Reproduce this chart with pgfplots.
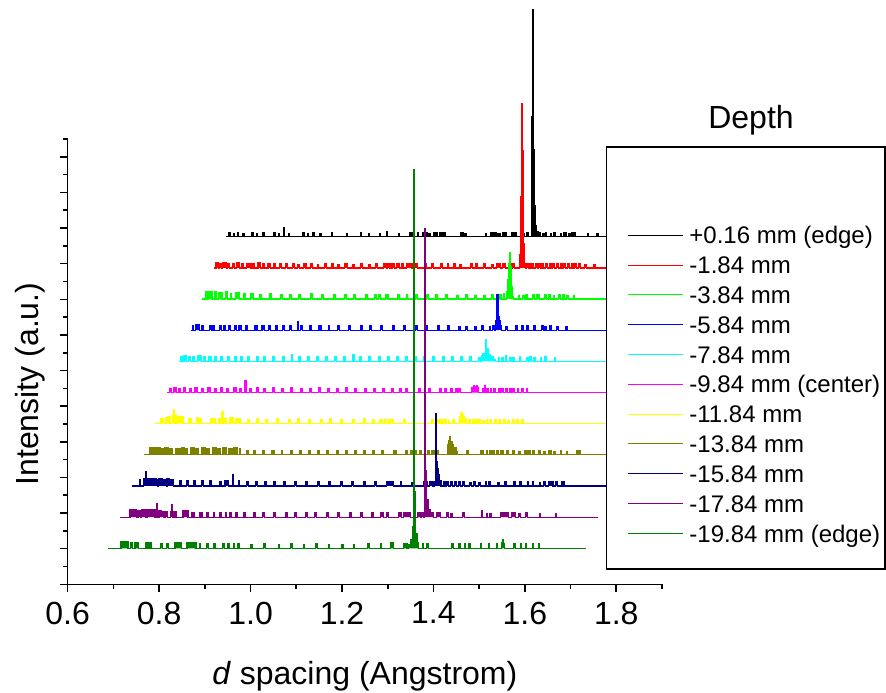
\documentclass[border=0pt]{standalone}
\usepackage{fontspec}
\setmainfont{Liberation Sans}
\usepackage{pgfplots}
\pgfplotsset{compat=1.18}
\definecolor{olivec}{rgb}{0.5,0.5,0}
\definecolor{navyc}{rgb}{0,0,0.5}
\definecolor{purplec}{rgb}{0.5,0,0.5}
\definecolor{dgreen}{rgb}{0,0.5,0}
\definecolor{bgreen}{rgb}{0,1,0}
\definecolor{redc}{rgb}{1,0,0}
\definecolor{bluec}{rgb}{0,0,1}
\definecolor{cyanc}{rgb}{0,1,1}
\definecolor{magc}{rgb}{1,0,1}
\definecolor{yelc}{rgb}{1,1,0}
\newcommand{\wfdx}{0.0257}
\newcommand{\wfdy}{0.8745}
\newcommand{\wfyb}{1.011}
\pgfplotsset{wf/.style={const plot, line width=0.6pt, mark=none, fill}}
\begin{document}
\begin{tikzpicture}
\begin{axis}[
  at={(0,0)}, anchor=south west,
  scale only axis, width=297.15pt, height=222.65pt,
  xmin=0.6, xmax=1.9, ymin=0, ymax=12.5,
  clip=false,
  axis lines=left, axis line style={-, line width=0.8pt},
  xtick={0.6,0.8,1.0,1.2,1.4,1.6,1.8},
  minor xtick={0.7,0.9,1.1,1.3,1.5,1.7,1.9},
  ytick={0,1,...,12}, minor ytick={0.5,1.5,...,12.5},
  yticklabels={},
  tick align=outside,
  major tick length=4pt, minor tick length=2.2pt,
  every tick/.style={black, line width=0.8pt},
  /pgf/number format/assume math mode=true,
  xticklabel style={font=\fontsize{16}{19}\selectfont, inner sep=0pt, yshift=-4.6pt, /pgf/number format/.cd, fixed, fixed zerofill, precision=1},
  xlabel={\textit{d} spacing (Angstrom)},
  xlabel style={at={(axis description cs:0.5,-0.2059)}, anchor=center, font=\fontsize{16}{19}\selectfont},
  ylabel={Intensity (a.u.)},
  ylabel style={at={(axis description cs:-0.06344,0.4498)}, anchor=center, font=\fontsize{16}{19}\selectfont},
]
% +0.16 mm (edge), k=10
\addplot[wf, black] table[header=false, row sep=\\, x expr=\thisrowno{0}+10*\wfdx, y expr=\thisrowno{1}+\wfyb+10*\wfdy] {
0.6890 0\\ 0.6960 0.12\\ 0.6980 0\\ 0.7050 0.1\\ 0.7070 0\\ 0.7150 0.12\\ 0.7170 0\\ 0.7260 0.1\\ 0.7290 0\\ 0.7460 0.12\\ 0.7500 0\\ 0.7560 0.1\\ 0.7580 0\\ 0.7700 0.13\\ 0.7740 0\\ 0.7940 0.12\\ 0.7970 0\\ 0.8040 0.1\\ 0.8060 0\\ 0.8160 0.25\\ 0.8180 0\\ 0.8260 0.1\\ 0.8280 0\\ 0.8560 0.12\\ 0.8600 0\\ 0.8670 0.1\\ 0.8700 0\\ 0.8790 0.12\\ 0.8830 0\\ 0.8950 0.1\\ 0.8980 0\\ 0.9200 0.12\\ 0.9230 0\\ 0.9520 0.1\\ 0.9550 0\\ 0.9830 0.12\\ 0.9860 0\\ 1.0010 0.1\\ 1.0040 0\\ 1.0250 0.1\\ 1.0270 0\\ 1.0410 0.14\\ 1.0430 0\\ 1.0660 0.1\\ 1.0690 0\\ 1.0905 0.13\\ 1.0940 0\\ 1.0960 0.12\\ 1.0990 0\\ 1.1080 0.12\\ 1.1100 0\\ 1.1200 0.13\\ 1.1240 0\\ 1.1260 0.12\\ 1.1290 0\\ 1.1330 0.1\\ 1.1360 0\\ 1.1430 0.13\\ 1.1520 0\\ 1.1560 0.12\\ 1.1620 0\\ 1.1650 0.11\\ 1.1690 0\\ 1.2014 0.12\\ 1.2080 0\\ 1.2110 0.1\\ 1.2160 0\\ 1.2561 0.1\\ 1.2580 0\\ 1.2670 0.11\\ 1.2700 0\\ 1.2720 0.12\\ 1.2800 0\\ 1.2840 0.1\\ 1.2900 0\\ 1.2950 0.12\\ 1.3036 0\\ 1.3146 0.11\\ 1.3180 0\\ 1.3210 0.12\\ 1.3255 0\\ 1.3380 0.1\\ 1.3410 0\\ 1.3470 0.11\\ 1.3500 0\\ 1.3572 3.36\\ 1.3594 6.39\\ 1.3616 2.46\\ 1.3638 0.87\\ 1.3660 0.3\\ 1.3690 0.14\\ 1.3720 0\\ 1.3740 0.12\\ 1.3780 0\\ 1.3820 0.1\\ 1.3860 0\\ 1.3880 0.11\\ 1.3912 0\\ 1.3990 0.1\\ 1.4020 0\\ 1.4050 0.12\\ 1.4090 0\\ 1.4202 0.1\\ 1.4240 0\\ 1.4270 0.12\\ 1.4330 0\\ 1.4380 0.1\\ 1.4420 0\\ 1.4460 0.11\\ 1.4531 0\\ 1.4800 0.1\\ 1.4830 0\\ 1.5000 0.1\\ 1.5030 0\\ 1.5300 0.1\\ 1.5330 0\\ 1.7340 0\\
};
% -1.84 mm, k=9
\addplot[wf, redc] table[header=false, row sep=\\, x expr=\thisrowno{0}+9*\wfdx, y expr=\thisrowno{1}+\wfyb+9*\wfdy] {
0.6890 0\\ 0.6930 0.14\\ 0.6990 0\\ 0.7010 0.12\\ 0.7050 0\\ 0.7080 0.16\\ 0.7160 0\\ 0.7190 0.13\\ 0.7230 0\\ 0.7290 0.12\\ 0.7330 0\\ 0.7380 0.15\\ 0.7450 0\\ 0.7500 0.12\\ 0.7530 0\\ 0.7600 0.13\\ 0.7680 0\\ 0.7720 0.12\\ 0.7760 0\\ 0.7850 0.14\\ 0.7900 0\\ 0.7960 0.12\\ 0.8000 0\\ 0.8070 0.12\\ 0.8130 0\\ 0.8200 0.13\\ 0.8240 0\\ 0.8320 0.12\\ 0.8360 0\\ 0.8450 0.12\\ 0.8500 0\\ 0.8600 0.13\\ 0.8640 0\\ 0.8720 0.1\\ 0.8750 0\\ 0.8850 0.12\\ 0.8900 0\\ 0.9000 0.12\\ 0.9040 0\\ 0.9150 0.1\\ 0.9180 0\\ 0.9300 0.12\\ 0.9340 0\\ 0.9450 0.12\\ 0.9490 0\\ 0.9600 0.1\\ 0.9630 0\\ 0.9750 0.12\\ 0.9800 0\\ 0.9920 0.1\\ 0.9950 0\\ 1.0100 0.12\\ 1.0140 0\\ 1.0270 0.1\\ 1.0300 0\\ 1.0420 0.12\\ 1.0460 0\\ 1.0593 0.12\\ 1.0660 0\\ 1.0690 0.13\\ 1.0739 0\\ 1.0780 0.12\\ 1.0830 0\\ 1.0880 0.11\\ 1.0940 0\\ 1.1000 0.12\\ 1.1040 0\\ 1.1100 0.12\\ 1.1220 0\\ 1.1250 0.11\\ 1.1330 0\\ 1.1500 0.12\\ 1.1540 0\\ 1.1650 0.11\\ 1.1690 0\\ 1.1850 0.12\\ 1.1880 0\\ 1.1990 0.11\\ 1.2020 0\\ 1.2130 0.12\\ 1.2160 0\\ 1.2270 0.1\\ 1.2300 0\\ 1.2500 0.12\\ 1.2540 0\\ 1.2600 0.11\\ 1.2640 0\\ 1.2790 0.12\\ 1.2830 0\\ 1.2960 0.1\\ 1.3000 0\\ 1.3074 0.12\\ 1.3160 0\\ 1.3190 0.11\\ 1.3256 0\\ 1.3340 0.12\\ 1.3390 0\\ 1.3420 0.11\\ 1.3460 0\\ 1.3570 0.38\\ 1.3592 2.0\\ 1.3613 4.62\\ 1.3635 3.3\\ 1.3657 0.67\\ 1.3679 0.12\\ 1.3700 0\\ 1.3730 0.12\\ 1.3760 0\\ 1.3790 0.11\\ 1.3820 0\\ 1.3850 0.12\\ 1.3880 0\\ 1.3920 0.11\\ 1.3960 0\\ 1.3990 0.12\\ 1.4030 0\\ 1.4060 0.11\\ 1.4100 0\\ 1.4140 0.12\\ 1.4180 0\\ 1.4220 0.12\\ 1.4260 0\\ 1.4300 0.11\\ 1.4340 0\\ 1.4380 0.12\\ 1.4420 0\\ 1.4460 0.11\\ 1.4500 0\\ 1.4540 0.12\\ 1.4580 0\\ 1.4620 0.11\\ 1.4660 0\\ 1.4700 0.12\\ 1.4740 0\\ 1.4780 0.11\\ 1.4820 0\\ 1.4860 0.12\\ 1.4896 0\\ 1.5000 0.1\\ 1.5030 0\\ 1.5200 0.1\\ 1.5240 0\\ 1.7340 0\\
};
% -3.84 mm, k=8
\addplot[wf, bgreen] table[header=false, row sep=\\, x expr=\thisrowno{0}+8*\wfdx, y expr=\thisrowno{1}+\wfyb+8*\wfdy] {
0.6890 0\\ 0.6950 0.2\\ 0.6990 0\\ 0.7020 0.22\\ 0.7100 0\\ 0.7150 0.2\\ 0.7190 0\\ 0.7250 0.18\\ 0.7320 0\\ 0.7400 0.2\\ 0.7440 0\\ 0.7500 0.15\\ 0.7530 0\\ 0.7620 0.18\\ 0.7700 0\\ 0.7800 0.14\\ 0.7840 0\\ 0.7950 0.15\\ 0.8000 0\\ 0.8150 0.12\\ 0.8190 0\\ 0.8350 0.14\\ 0.8390 0\\ 0.8600 0.12\\ 0.8640 0\\ 0.8800 0.13\\ 0.8840 0\\ 0.9000 0.12\\ 0.9030 0\\ 0.9250 0.14\\ 0.9300 0\\ 0.9500 0.12\\ 0.9540 0\\ 0.9750 0.12\\ 0.9790 0\\ 1.0000 0.13\\ 1.0050 0\\ 1.0200 0.12\\ 1.0240 0\\ 1.0450 0.12\\ 1.0490 0\\ 1.0650 0.13\\ 1.0700 0\\ 1.0750 0.12\\ 1.0790 0\\ 1.0900 0.12\\ 1.0950 0\\ 1.1150 0.13\\ 1.1190 0\\ 1.1350 0.12\\ 1.1380 0\\ 1.1550 0.12\\ 1.1600 0\\ 1.1800 0.12\\ 1.1840 0\\ 1.2000 0.13\\ 1.2040 0\\ 1.2200 0.12\\ 1.2250 0\\ 1.2450 0.1\\ 1.2480 0\\ 1.2650 0.12\\ 1.2690 0\\ 1.2850 0.1\\ 1.2880 0\\ 1.3050 0.1\\ 1.3080 0\\ 1.3220 0.12\\ 1.3260 0\\ 1.3380 0.13\\ 1.3420 0\\ 1.3470 0.14\\ 1.3500 0\\ 1.3550 0.2\\ 1.3563 0.55\\ 1.3580 1.0\\ 1.3608 1.31\\ 1.3630 0.92\\ 1.3652 0.36\\ 1.3675 0.08\\ 1.3700 0\\ 1.3800 0.1\\ 1.3830 0\\ 1.3900 0.1\\ 1.3930 0\\ 1.3970 0.12\\ 1.4000 0\\ 1.4110 0.12\\ 1.4150 0\\ 1.4210 0.12\\ 1.4260 0\\ 1.4370 0.12\\ 1.4420 0\\ 1.4470 0.12\\ 1.4500 0\\ 1.4570 0.1\\ 1.4600 0\\ 1.4680 0.12\\ 1.4720 0\\ 1.4760 0.12\\ 1.4800 0\\ 1.4850 0.1\\ 1.4900 0\\ 1.5000 0.1\\ 1.5030 0\\ 1.7340 0\\
};
% -5.84 mm, k=7
\addplot[wf, bluec] table[header=false, row sep=\\, x expr=\thisrowno{0}+7*\wfdx, y expr=\thisrowno{1}+\wfyb+7*\wfdy] {
0.6890 0\\ 0.6930 0.12\\ 0.6960 0\\ 0.6990 0.15\\ 0.7080 0\\ 0.7120 0.13\\ 0.7160 0\\ 0.7300 0.14\\ 0.7350 0\\ 0.7380 0.12\\ 0.7420 0\\ 0.7530 0.12\\ 0.7560 0\\ 0.7620 0.13\\ 0.7660 0\\ 0.7720 0.12\\ 0.7760 0\\ 0.7850 0.14\\ 0.7890 0\\ 0.7950 0.12\\ 0.8000 0\\ 0.8100 0.13\\ 0.8140 0\\ 0.8300 0.12\\ 0.8340 0\\ 0.8450 0.12\\ 0.8500 0\\ 0.8600 0.13\\ 0.8630 0\\ 0.8740 0.12\\ 0.8780 0\\ 0.8900 0.12\\ 0.8940 0\\ 0.9050 0.13\\ 0.9090 0\\ 0.9220 0.24\\ 0.9240 0\\ 0.9300 0.12\\ 0.9340 0\\ 0.9500 0.12\\ 0.9540 0\\ 0.9700 0.13\\ 0.9740 0\\ 0.9900 0.12\\ 0.9930 0\\ 1.0100 0.12\\ 1.0140 0\\ 1.0350 0.13\\ 1.0390 0\\ 1.0600 0.12\\ 1.0640 0\\ 1.0800 0.12\\ 1.0840 0\\ 1.1050 0.13\\ 1.1090 0\\ 1.1300 0.12\\ 1.1340 0\\ 1.1550 0.12\\ 1.1590 0\\ 1.1800 0.13\\ 1.1850 0\\ 1.2050 0.12\\ 1.2080 0\\ 1.2300 0.12\\ 1.2340 0\\ 1.2500 0.12\\ 1.2540 0\\ 1.2750 0.1\\ 1.2780 0\\ 1.2900 0.1\\ 1.2940 0\\ 1.3100 0.1\\ 1.3130 0\\ 1.3250 0.12\\ 1.3290 0\\ 1.3420 0.1\\ 1.3450 0\\ 1.3500 0.12\\ 1.3530 0\\ 1.3560 0.28\\ 1.3590 1.01\\ 1.3612 0.39\\ 1.3634 0.28\\ 1.3660 0.14\\ 1.3690 0\\ 1.3780 0.1\\ 1.3820 0\\ 1.4000 0.12\\ 1.4030 0\\ 1.4120 0.12\\ 1.4160 0\\ 1.4240 0.12\\ 1.4270 0\\ 1.4400 0.12\\ 1.4440 0\\ 1.4570 0.12\\ 1.4600 0\\ 1.4640 0.1\\ 1.4670 0\\ 1.4750 0.12\\ 1.4790 0\\ 1.4900 0.1\\ 1.4930 0\\ 1.5100 0.1\\ 1.5130 0\\ 1.7340 0\\
};
% -7.84 mm, k=6
\addplot[wf, cyanc] table[header=false, row sep=\\, x expr=\thisrowno{0}+6*\wfdx, y expr=\thisrowno{1}+\wfyb+6*\wfdy] {
0.6890 0\\ 0.6920 0.13\\ 0.6960 0\\ 0.7000 0.16\\ 0.7060 0\\ 0.7100 0.14\\ 0.7150 0\\ 0.7200 0.13\\ 0.7240 0\\ 0.7300 0.15\\ 0.7380 0\\ 0.7420 0.12\\ 0.7460 0\\ 0.7550 0.14\\ 0.7600 0\\ 0.7680 0.13\\ 0.7720 0\\ 0.7800 0.12\\ 0.7840 0\\ 0.7950 0.14\\ 0.8000 0\\ 0.8100 0.12\\ 0.8140 0\\ 0.8250 0.13\\ 0.8290 0\\ 0.8400 0.12\\ 0.8440 0\\ 0.8600 0.14\\ 0.8640 0\\ 0.8750 0.12\\ 0.8790 0\\ 0.8950 0.13\\ 0.8990 0\\ 0.9150 0.12\\ 0.9190 0\\ 0.9350 0.18\\ 0.9370 0\\ 0.9500 0.12\\ 0.9540 0\\ 0.9700 0.13\\ 0.9740 0\\ 0.9900 0.12\\ 0.9940 0\\ 1.0100 0.12\\ 1.0140 0\\ 1.0300 0.13\\ 1.0340 0\\ 1.0500 0.12\\ 1.0540 0\\ 1.0700 0.2\\ 1.0720 0\\ 1.0850 0.12\\ 1.0890 0\\ 1.1050 0.13\\ 1.1090 0\\ 1.1250 0.12\\ 1.1290 0\\ 1.1450 0.12\\ 1.1490 0\\ 1.1650 0.13\\ 1.1690 0\\ 1.1850 0.12\\ 1.1890 0\\ 1.2050 0.12\\ 1.2090 0\\ 1.2250 0.13\\ 1.2290 0\\ 1.2450 0.12\\ 1.2490 0\\ 1.2650 0.12\\ 1.2690 0\\ 1.2850 0.12\\ 1.2890 0\\ 1.3050 0.12\\ 1.3090 0\\ 1.3250 0.12\\ 1.3290 0\\ 1.3450 0.1\\ 1.3480 0\\ 1.3510 0.15\\ 1.3540 0.22\\ 1.3567 0.1\\ 1.3590 0.61\\ 1.3615 0.37\\ 1.3650 0.2\\ 1.3700 0.1\\ 1.3740 0.14\\ 1.3780 0.05\\ 1.3810 0\\ 1.3880 0.1\\ 1.3910 0\\ 1.3960 0.1\\ 1.3990 0\\ 1.4030 0.16\\ 1.4060 0\\ 1.4130 0.1\\ 1.4170 0\\ 1.4200 0.1\\ 1.4230 0\\ 1.4340 0.12\\ 1.4370 0\\ 1.4500 0.1\\ 1.4530 0\\ 1.4560 0.12\\ 1.4600 0\\ 1.4650 0.1\\ 1.4680 0\\ 1.4800 0.1\\ 1.4830 0\\ 1.4900 0.12\\ 1.4930 0\\ 1.5100 0.1\\ 1.5130 0\\ 1.7340 0\\
};
% -9.84 mm (center), k=5
\addplot[wf, magc] table[header=false, row sep=\\, x expr=\thisrowno{0}+5*\wfdx, y expr=\thisrowno{1}+\wfyb+5*\wfdy] {
0.6890 0\\ 0.6950 0.12\\ 0.6990 0\\ 0.7030 0.14\\ 0.7100 0\\ 0.7150 0.12\\ 0.7190 0\\ 0.7250 0.15\\ 0.7300 0\\ 0.7380 0.12\\ 0.7420 0\\ 0.7500 0.13\\ 0.7560 0\\ 0.7650 0.12\\ 0.7690 0\\ 0.7780 0.14\\ 0.7830 0\\ 0.7920 0.12\\ 0.7960 0\\ 0.8050 0.13\\ 0.8100 0\\ 0.8200 0.12\\ 0.8240 0\\ 0.8350 0.14\\ 0.8400 0\\ 0.8480 0.12\\ 0.8520 0\\ 0.8595 0.33\\ 0.8615 0\\ 0.8700 0.12\\ 0.8740 0\\ 0.8850 0.13\\ 0.8890 0\\ 0.9000 0.12\\ 0.9040 0\\ 0.9200 0.13\\ 0.9240 0\\ 0.9400 0.12\\ 0.9440 0\\ 0.9600 0.13\\ 0.9640 0\\ 0.9800 0.12\\ 0.9840 0\\ 1.0000 0.12\\ 1.0040 0\\ 1.0200 0.13\\ 1.0240 0\\ 1.0400 0.12\\ 1.0440 0\\ 1.0600 0.12\\ 1.0640 0\\ 1.0800 0.13\\ 1.0840 0\\ 1.1000 0.12\\ 1.1040 0\\ 1.1200 0.12\\ 1.1240 0\\ 1.1400 0.12\\ 1.1440 0\\ 1.1600 0.12\\ 1.1640 0\\ 1.1800 0.12\\ 1.1840 0\\ 1.1980 0.12\\ 1.2020 0\\ 1.2100 0.12\\ 1.2140 0\\ 1.2400 0.1\\ 1.2440 0\\ 1.2600 0.1\\ 1.2640 0\\ 1.2850 0.12\\ 1.2880 0\\ 1.2950 0.12\\ 1.2990 0\\ 1.3080 0.1\\ 1.3120 0\\ 1.3200 0.12\\ 1.3240 0\\ 1.3270 0.1\\ 1.3300 0\\ 1.3555 0.15\\ 1.3590 0.2\\ 1.3620 0.17\\ 1.3650 0.2\\ 1.3680 0.14\\ 1.3700 0\\ 1.3800 0.12\\ 1.3830 0\\ 1.3840 0.19\\ 1.3860 0\\ 1.3880 0.12\\ 1.3910 0\\ 1.3960 0.1\\ 1.3990 0\\ 1.4040 0.12\\ 1.4070 0\\ 1.4140 0.12\\ 1.4170 0\\ 1.4210 0.1\\ 1.4240 0\\ 1.4300 0.12\\ 1.4330 0\\ 1.4380 0.1\\ 1.4410 0\\ 1.4450 0.12\\ 1.4480 0\\ 1.4550 0.1\\ 1.4580 0\\ 1.4650 0.12\\ 1.4680 0\\ 1.4750 0.1\\ 1.4780 0\\ 1.7340 0\\
};
% -11.84 mm, k=4
\addplot[wf, yelc] table[header=false, row sep=\\, x expr=\thisrowno{0}+4*\wfdx, y expr=\thisrowno{1}+\wfyb+4*\wfdy] {
0.6890 0\\ 0.7014 0.13\\ 0.7064 0\\ 0.7123 0.16\\ 0.7150 0.2\\ 0.7210 0\\ 0.7270 0.25\\ 0.7290 0.39\\ 0.7310 0.25\\ 0.7340 0\\ 0.7370 0.2\\ 0.7500 0\\ 0.7626 0.15\\ 0.7685 0\\ 0.7795 0.16\\ 0.7840 0\\ 0.7860 0.14\\ 0.7904 0\\ 0.8100 0.15\\ 0.8195 0\\ 0.8280 0.14\\ 0.8330 0\\ 0.8348 0.34\\ 0.8368 0\\ 0.8400 0.15\\ 0.8440 0\\ 0.8524 0.16\\ 0.8600 0\\ 0.8640 0.15\\ 0.8743 0\\ 0.8900 0.12\\ 0.8940 0\\ 0.9100 0.13\\ 0.9140 0\\ 0.9300 0.12\\ 0.9340 0\\ 0.9550 0.14\\ 0.9590 0\\ 0.9800 0.12\\ 0.9840 0\\ 1.0000 0.13\\ 1.0040 0\\ 1.0250 0.12\\ 1.0290 0\\ 1.0500 0.12\\ 1.0540 0\\ 1.0700 0.13\\ 1.0740 0\\ 1.0950 0.12\\ 1.0990 0\\ 1.1200 0.12\\ 1.1240 0\\ 1.1450 0.13\\ 1.1490 0\\ 1.1650 0.12\\ 1.1690 0\\ 1.1805 0.11\\ 1.1860 0\\ 1.1900 0.12\\ 1.1950 0\\ 1.2000 0.11\\ 1.2097 0\\ 1.2316 0.12\\ 1.2353 0\\ 1.2534 0.12\\ 1.2560 0\\ 1.2937 0.12\\ 1.2972 0\\ 1.3047 0.12\\ 1.3080 0\\ 1.3110 0.11\\ 1.3140 0\\ 1.3180 0.12\\ 1.3210 0\\ 1.3240 0.11\\ 1.3265 0\\ 1.3300 0.1\\ 1.3330 0\\ 1.3400 0.12\\ 1.3440 0\\ 1.3540 0.2\\ 1.3560 0.3\\ 1.3600 0.25\\ 1.3630 0.2\\ 1.3660 0.15\\ 1.3687 0\\ 1.3750 0.12\\ 1.3790 0\\ 1.3830 0.11\\ 1.3860 0\\ 1.3900 0.12\\ 1.3930 0\\ 1.3960 0.11\\ 1.4000 0\\ 1.4050 0.1\\ 1.4080 0\\ 1.4130 0.12\\ 1.4160 0\\ 1.4210 0.11\\ 1.4240 0\\ 1.4300 0.12\\ 1.4340 0\\ 1.4400 0.11\\ 1.4430 0\\ 1.4500 0.12\\ 1.4540 0\\ 1.4600 0.1\\ 1.4640 0\\ 1.4700 0.12\\ 1.4740 0\\ 1.4800 0.11\\ 1.4840 0\\ 1.4900 0.12\\ 1.4930 0\\ 1.7340 0\\
};
% -13.84 mm, k=3
\addplot[wf, olivec] table[header=false, row sep=\\, x expr=\thisrowno{0}+3*\wfdx, y expr=\thisrowno{1}+\wfyb+3*\wfdy] {
0.6890 0\\ 0.7030 0.19\\ 0.7050 0\\ 0.7070 0.19\\ 0.7150 0\\ 0.7170 0.19\\ 0.7250 0\\ 0.7270 0.18\\ 0.7330 0\\ 0.7350 0.19\\ 0.7440 0\\ 0.7460 0.18\\ 0.7530 0\\ 0.7600 0.17\\ 0.7700 0\\ 0.7720 0.19\\ 0.7780 0\\ 0.7800 0.18\\ 0.7850 0\\ 0.7920 0.19\\ 0.8000 0\\ 0.8020 0.18\\ 0.8080 0\\ 0.8150 0.19\\ 0.8250 0\\ 0.8270 0.18\\ 0.8330 0\\ 0.8400 0.19\\ 0.8480 0\\ 0.8500 0.18\\ 0.8580 0\\ 0.8620 0.19\\ 0.8700 0\\ 0.8750 0.18\\ 0.8830 0\\ 0.8860 0.19\\ 0.8950 0\\ 0.8980 0.18\\ 0.9000 0\\ 0.9150 0.12\\ 0.9180 0\\ 0.9300 0.12\\ 0.9330 0\\ 0.9500 0.12\\ 0.9530 0\\ 0.9700 0.13\\ 0.9740 0\\ 0.9900 0.12\\ 0.9930 0\\ 1.0100 0.13\\ 1.0140 0\\ 1.0300 0.12\\ 1.0340 0\\ 1.0500 0.12\\ 1.0540 0\\ 1.0700 0.13\\ 1.0740 0\\ 1.0900 0.12\\ 1.0940 0\\ 1.1100 0.12\\ 1.1140 0\\ 1.1300 0.13\\ 1.1340 0\\ 1.1500 0.12\\ 1.1540 0\\ 1.1700 0.12\\ 1.1740 0\\ 1.1900 0.12\\ 1.1940 0\\ 1.2100 0.12\\ 1.2140 0\\ 1.2354 0.12\\ 1.2428 0\\ 1.2610 0.12\\ 1.2660 0\\ 1.2740 0.12\\ 1.2780 0\\ 1.2810 0.11\\ 1.2850 0\\ 1.2920 0.12\\ 1.2960 0\\ 1.3100 0.12\\ 1.3140 0\\ 1.3180 0.11\\ 1.3230 0\\ 1.3260 0.12\\ 1.3340 0\\ 1.3544 0.28\\ 1.3566 0.4\\ 1.3588 0.5\\ 1.3610 0.37\\ 1.3638 0.28\\ 1.3668 0.2\\ 1.3704 0.2\\ 1.3726 0.1\\ 1.3750 0\\ 1.3960 0.12\\ 1.3990 0\\ 1.4250 0.12\\ 1.4320 0\\ 1.4390 0.12\\ 1.4420 0\\ 1.4460 0.11\\ 1.4500 0\\ 1.4530 0.12\\ 1.4560 0\\ 1.4600 0.12\\ 1.4640 0\\ 1.4700 0.11\\ 1.4750 0\\ 1.4830 0.12\\ 1.4870 0\\ 1.4950 0.12\\ 1.4990 0\\ 1.5100 0.1\\ 1.5130 0\\ 1.5230 0.12\\ 1.5280 0\\ 1.5300 0.12\\ 1.5350 0\\ 1.5400 0.11\\ 1.5430 0\\ 1.5520 0.12\\ 1.5560 0\\ 1.5640 0.1\\ 1.5670 0\\ 1.5750 0.12\\ 1.5800 0\\ 1.5860 0.1\\ 1.5900 0\\ 1.6000 0.12\\ 1.6030 0\\ 1.6148 0.1\\ 1.6170 0\\ 1.6350 0.12\\ 1.6440 0\\ 1.7340 0\\
};
% -15.84 mm, k=2
\addplot[wf, navyc] table[header=false, row sep=\\, x expr=\thisrowno{0}+2*\wfdx, y expr=\thisrowno{1}+\wfyb+2*\wfdy] {
0.6890 0\\ 0.7053 0.17\\ 0.7070 0\\ 0.7140 0.2\\ 0.7184 0.41\\ 0.7200 0.2\\ 0.7300 0.18\\ 0.7330 0.2\\ 0.7420 0.17\\ 0.7460 0\\ 0.7480 0.2\\ 0.7560 0.18\\ 0.7640 0\\ 0.7660 0.2\\ 0.7700 0.17\\ 0.7797 0\\ 0.7943 0.15\\ 0.7980 0\\ 0.8090 0.14\\ 0.8120 0\\ 0.8234 0.14\\ 0.8270 0\\ 0.8418 0.15\\ 0.8450 0\\ 0.8600 0.14\\ 0.8630 0\\ 0.8819 0.12\\ 0.8840 0\\ 0.8928 0.14\\ 0.9000 0\\ 0.9097 0.31\\ 0.9120 0\\ 0.9220 0.14\\ 0.9250 0\\ 0.9400 0.12\\ 0.9440 0\\ 0.9600 0.13\\ 0.9640 0\\ 0.9800 0.12\\ 0.9840 0\\ 1.0000 0.13\\ 1.0040 0\\ 1.0200 0.12\\ 1.0240 0\\ 1.0450 0.12\\ 1.0490 0\\ 1.0700 0.13\\ 1.0740 0\\ 1.0950 0.12\\ 1.0990 0\\ 1.1200 0.12\\ 1.1240 0\\ 1.1450 0.13\\ 1.1490 0\\ 1.1700 0.12\\ 1.1740 0\\ 1.1950 0.12\\ 1.1990 0\\ 1.2200 0.12\\ 1.2240 0\\ 1.2466 0.12\\ 1.2612 0\\ 1.2757 0.12\\ 1.2780 0\\ 1.3000 0.1\\ 1.3030 0\\ 1.3267 0.12\\ 1.3350 0\\ 1.3400 0.11\\ 1.3460 0\\ 1.3500 0.12\\ 1.3530 2.02\\ 1.3552 0.68\\ 1.3574 0.5\\ 1.3596 0.31\\ 1.3618 0.14\\ 1.3650 0\\ 1.3705 0.12\\ 1.3740 0\\ 1.3780 0.12\\ 1.3820 0\\ 1.3860 0.11\\ 1.3900 0\\ 1.3950 0.12\\ 1.3990 0\\ 1.4030 0.12\\ 1.4070 0\\ 1.4130 0.12\\ 1.4160 0\\ 1.4280 0.1\\ 1.4310 0\\ 1.4370 0.12\\ 1.4400 0\\ 1.4480 0.1\\ 1.4510 0\\ 1.4620 0.12\\ 1.4650 0\\ 1.4700 0.12\\ 1.4730 0\\ 1.4900 0.1\\ 1.4930 0\\ 1.5050 0.12\\ 1.5090 0\\ 1.5240 0.12\\ 1.5270 0\\ 1.5380 0.12\\ 1.5410 0\\ 1.5540 0.12\\ 1.5570 0\\ 1.5650 0.12\\ 1.5680 0\\ 1.5800 0.1\\ 1.5830 0\\ 1.5900 0.12\\ 1.5940 0\\ 1.6000 0.12\\ 1.6100 0\\ 1.6150 0.11\\ 1.6200 0\\ 1.6300 0.12\\ 1.6340 0\\ 1.7340 0\\
};
% -17.84 mm, k=1
\addplot[wf, purplec] table[header=false, row sep=\\, x expr=\thisrowno{0}+1*\wfdx, y expr=\thisrowno{1}+\wfyb+1*\wfdy] {
0.6888 0\\ 0.7107 0.2\\ 0.7254 0\\ 0.7280 0.18\\ 0.7330 0\\ 0.7363 0.2\\ 0.7457 0\\ 0.7479 0.2\\ 0.7654 0\\ 0.7691 0.37\\ 0.7710 0\\ 0.7740 0.17\\ 0.7800 0.15\\ 0.7850 0\\ 0.7880 0.15\\ 0.7920 0\\ 0.8000 0.15\\ 0.8020 0.34\\ 0.8040 0\\ 0.8070 0.15\\ 0.8110 0\\ 0.8267 0.17\\ 0.8376 0\\ 0.8464 0.14\\ 0.8507 0\\ 0.8623 0.13\\ 0.8650 0\\ 0.8676 0.12\\ 0.8700 0\\ 0.8785 0.13\\ 0.8810 0\\ 0.8930 0.12\\ 0.8960 0\\ 0.9076 0.13\\ 0.9100 0\\ 0.9186 0.12\\ 0.9210 0\\ 0.9295 0.12\\ 0.9320 0\\ 0.9426 0.12\\ 0.9460 0\\ 0.9600 0.13\\ 0.9640 0\\ 0.9800 0.12\\ 0.9840 0\\ 1.0000 0.12\\ 1.0040 0\\ 1.0250 0.13\\ 1.0290 0\\ 1.0500 0.12\\ 1.0540 0\\ 1.0700 0.12\\ 1.0740 0\\ 1.0950 0.13\\ 1.0990 0\\ 1.1150 0.12\\ 1.1190 0\\ 1.1400 0.12\\ 1.1440 0\\ 1.1650 0.13\\ 1.1690 0\\ 1.1900 0.12\\ 1.1940 0\\ 1.2150 0.12\\ 1.2190 0\\ 1.2400 0.12\\ 1.2440 0\\ 1.2577 0.12\\ 1.2650 0\\ 1.2720 0.12\\ 1.2760 0\\ 1.2971 0.13\\ 1.3050 0\\ 1.3080 0.12\\ 1.3234 0\\ 1.3300 0.12\\ 1.3340 0\\ 1.3387 0.12\\ 1.3460 0\\ 1.3490 0.12\\ 1.3530 0\\ 1.3555 8.09\\ 1.3575 1.3\\ 1.3597 0.5\\ 1.3630 0.2\\ 1.3671 0.12\\ 1.3740 0\\ 1.3818 0.12\\ 1.3900 0\\ 1.4037 0.12\\ 1.4070 0\\ 1.4120 0.1\\ 1.4150 0\\ 1.4387 0.12\\ 1.4420 0\\ 1.4788 0.17\\ 1.4810 0\\ 1.4900 0.1\\ 1.4930 0\\ 1.4980 0.1\\ 1.5010 0\\ 1.5203 0.12\\ 1.5385 0\\ 1.5459 0.12\\ 1.5540 0\\ 1.5600 0.1\\ 1.5640 0\\ 1.5750 0.12\\ 1.5800 0\\ 1.6063 0.11\\ 1.6090 0\\ 1.6407 0.11\\ 1.6440 0\\ 1.7341 0\\
};
% -19.84 mm (edge), k=0
\addplot[wf, dgreen] table[header=false, row sep=\\, x expr=\thisrowno{0}, y expr=\thisrowno{1}+\wfyb] {
0.6890 0\\ 0.7166 0.2\\ 0.7320 0\\ 0.7379 0.17\\ 0.7420 0\\ 0.7473 0.17\\ 0.7540 0\\ 0.7698 0.15\\ 0.7735 0\\ 0.7760 0.15\\ 0.7790 0\\ 0.7810 0.16\\ 0.7840 0\\ 0.8035 0.13\\ 0.8070 0\\ 0.8166 0.13\\ 0.8200 0\\ 0.8348 0.17\\ 0.8495 0\\ 0.8610 0.17\\ 0.8807 0\\ 0.8880 0.13\\ 0.8910 0\\ 0.9042 0.13\\ 0.9080 0\\ 0.9186 0.12\\ 0.9220 0\\ 0.9392 0.12\\ 0.9430 0\\ 0.9508 0.12\\ 0.9540 0\\ 0.9624 0.12\\ 0.9650 0\\ 0.9727 0.13\\ 0.9760 0\\ 1.0010 0.1\\ 1.0040 0\\ 1.0290 0.12\\ 1.0330 0\\ 1.0610 0.1\\ 1.0640 0\\ 1.0880 0.13\\ 1.0920 0\\ 1.1150 0.1\\ 1.1180 0\\ 1.1420 0.12\\ 1.1460 0\\ 1.1700 0.1\\ 1.1730 0\\ 1.1990 0.11\\ 1.2020 0\\ 1.2250 0.1\\ 1.2280 0\\ 1.2560 0.12\\ 1.2600 0\\ 1.2834 0.13\\ 1.2870 0\\ 1.3053 0.15\\ 1.3120 0\\ 1.3337 0.13\\ 1.3420 0\\ 1.3460 0.1\\ 1.3500 0.25\\ 1.3540 0.6\\ 1.3556 10.62\\ 1.3576 1.6\\ 1.3596 0.9\\ 1.3616 0.4\\ 1.3646 0.15\\ 1.3676 0\\ 1.3760 0.12\\ 1.3790 0\\ 1.3856 0.13\\ 1.3890 0\\ 1.4403 0.12\\ 1.4440 0\\ 1.4541 0.13\\ 1.4580 0\\ 1.4680 0.12\\ 1.4710 0\\ 1.4760 0.13\\ 1.4800 0\\ 1.5022 0.12\\ 1.5050 0\\ 1.5197 0.12\\ 1.5230 0\\ 1.5372 0.12\\ 1.5400 0\\ 1.5490 0.15\\ 1.5510 0.24\\ 1.5530 0.12\\ 1.5560 0\\ 1.5744 0.13\\ 1.5800 0\\ 1.5897 0.12\\ 1.5920 0\\ 1.6007 0.12\\ 1.6030 0\\ 1.6160 0.12\\ 1.6190 0\\ 1.6298 0.13\\ 1.6320 0\\ 1.7341 0\\
};
\end{axis}
% legend frame (covers the spectra behind it)
\draw[line width=0.6pt, fill=white] (269.5pt,7.65pt) rectangle (408.6pt,218.65pt);
\node[font=\fontsize{16}{19}\selectfont] at (341.65pt,232.15pt) {Depth};
\begin{axis}[
  at={(0,0)}, anchor=south west,
  scale only axis, width=297.15pt, height=222.65pt,
  xmin=0, xmax=1, ymin=0, ymax=1, hide axis,
  legend cell align=left,
  legend style={draw=none, fill=none, inner sep=0pt,
    at={(axis description cs:0.9406,0.8179)}, anchor=north west,
    font=\fontsize{12}{14}\selectfont, row sep=0pt, column sep=3.15pt,
    nodes={inner sep=0pt, text height=11.75pt, text depth=3.15pt}},
  legend image code/.code={\draw[#1, line width=0.5pt] (0pt,0pt) -- (27.5pt,0pt);},
]
\addlegendimage{black}\addlegendentry{+0.16 mm (edge)}
\addlegendimage{redc}\addlegendentry{-1.84 mm}
\addlegendimage{bgreen}\addlegendentry{-3.84 mm}
\addlegendimage{bluec}\addlegendentry{-5.84 mm}
\addlegendimage{cyanc}\addlegendentry{-7.84 mm}
\addlegendimage{magc}\addlegendentry{-9.84 mm (center)}
\addlegendimage{yelc}\addlegendentry{-11.84 mm}
\addlegendimage{olivec}\addlegendentry{-13.84 mm}
\addlegendimage{navyc}\addlegendentry{-15.84 mm}
\addlegendimage{purplec}\addlegendentry{-17.84 mm}
\addlegendimage{dgreen}\addlegendentry{-19.84 mm (edge)}
\end{axis}
\pgfresetboundingbox
\useasboundingbox (-33.85pt,-53.85pt) rectangle (409.15pt,292.15pt);
\end{tikzpicture}
\end{document}
